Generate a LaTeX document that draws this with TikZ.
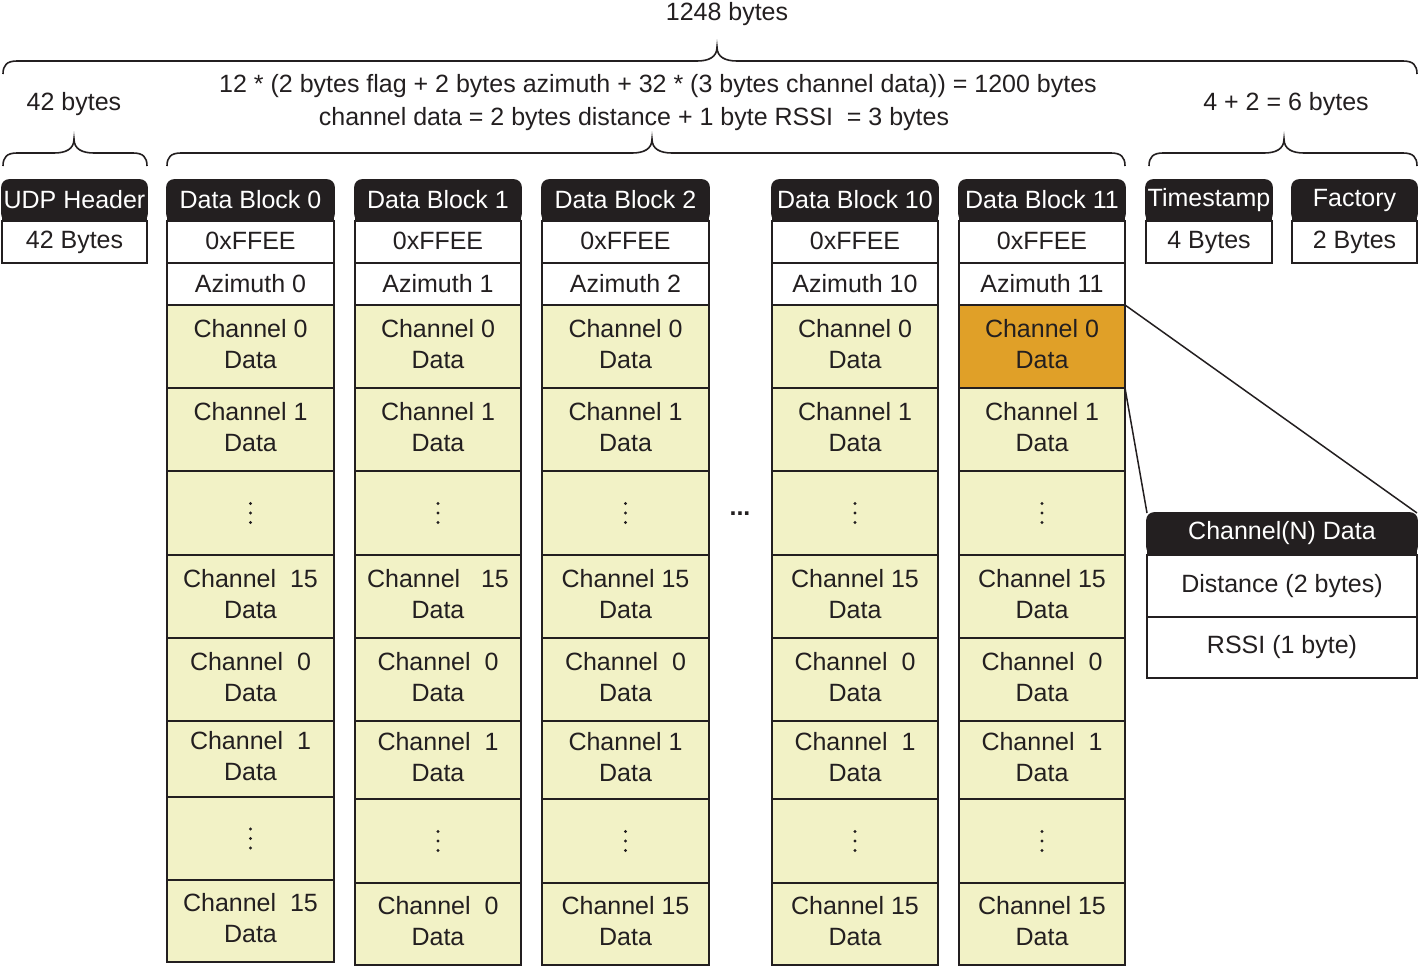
\documentclass[tikz,border=0pt]{standalone}
\usepackage{fontspec}
\setmainfont{Liberation Sans}
\definecolor{ink}{HTML}{231F20}
\definecolor{paleyellow}{HTML}{F2F2C6}
\definecolor{amber}{HTML}{E0A028}
\tikzset{
  base/.style={inner sep=0pt, outer sep=0pt, anchor=north west, align=center,
    font=\fontsize{25}{31}\selectfont, text=ink},
  cell/.style={base, draw=ink, line width=1.6pt, fill=paleyellow},
  wcell/.style={cell, fill=white},
  hot/.style={cell, fill=amber},
  hdrbox/.style={base, fill=ink, draw=ink, line width=1.6pt, rounded corners=7pt,
    minimum height=41, text=white},
  brc/.style={draw=ink, line width=1.6pt},
  lbl/.style={font=\fontsize{25}{31}\selectfont, text=ink, inner sep=0pt},
  link/.style={draw=ink, line width=1.5pt},
  dotmark/.style={fill=ink}
}
% header with rounded top corners: name, x, y, w, text
\newcommand\hdr[5]{%
  \fill[ink] (#2,#3+20) rectangle (#2+#4,#3+41);
  \node[hdrbox, minimum width=#4] (#1) at (#2,#3) {\raisebox{3pt}{#5}};
}
% column head: prefix, x, w, label, azimuth
\newcommand\colhead[5]{%
  \hdr{#1h}{#2}{180}{#3}{#4}
  \node[wcell, minimum width=#3, minimum height=42] (#1f) at (#2,221) {\raisebox{2pt}{0xFFEE}};
  \node[wcell, minimum width=#3, minimum height=42] (#1a) at (#2,263) {\raisebox{2pt}{#5}};
}
% row: name, x, w, ytop, ybot, text, style
\newcommand\chrow[7]{%
  \pgfmathsetmacro\rowh{#5-#4}
  \node[#7, minimum width=#3, minimum height=\rowh] (#1) at (#2,#4) {\raisebox{2pt}{\begin{tabular}{@{}c@{}}#6\end{tabular}}};
}
% dotted row: name, x, w, ytop, ybot
\newcommand\dotrow[5]{%
  \pgfmathsetmacro\rowh{#5-#4}
  \node[cell, minimum width=#3, minimum height=\rowh] (#1) at (#2,#4) {};
  \fill[dotmark] (#1.center) ++(0,-9.5) circle (1.6pt);
  \fill[dotmark] (#1.center) circle (1.6pt);
  \fill[dotmark] (#1.center) ++(0,9.5) circle (1.6pt);
}
% brace: left x, right x, tip x, line y
\newcommand\bytebrace[4]{%
  \draw[brc] (#1,#4+13) .. controls (#1,#4+4) and (#1+4,#4) .. (#1+14,#4)
    -- (#3-20,#4) .. controls (#3-8,#4) and (#3,#4-4) .. (#3,#4-14)
    .. controls (#3,#4-4) and (#3+8,#4) .. (#3+20,#4)
    -- (#2-14,#4) .. controls (#2-4,#4) and (#2,#4+4) .. (#2,#4+13);
}
\begin{document}
\begin{tikzpicture}[x=1pt, y=-1pt]
\useasboundingbox (0,0) rectangle (1422,967);

% texts and braces
\node[lbl] (t1248) at (727,14) {1248 bytes};
\bytebrace{3}{1417}{717}{61}
\node[lbl] (tcalc) at (658,86) {12 * (2 bytes flag + 2 bytes azimuth + 32 * (3 bytes channel data)) = 1200 bytes};
\node[lbl] (tch) at (634,119) {channel data = 2 bytes distance + 1 byte RSSI~~= 3 bytes};
\node[lbl] (t42) at (74,104) {42 bytes};
\node[lbl] (t6) at (1286,104) {4 + 2 = 6 bytes};
\bytebrace{3}{147}{74}{153}
\bytebrace{167}{1125}{652}{153}
\bytebrace{1149}{1417}{1284}{153}

% UDP header
\hdr{udph}{2}{180}{145}{UDP Header}
\node[wcell, minimum width=145, minimum height=42] (udpb) at (2,221) {\raisebox{2pt}{42 Bytes}};

% Data Block 0
\colhead{c0}{167}{167}{Data Block 0}{Azimuth 0}
\chrow{c0r0}{167}{167}{305}{388}{Channel 0\\Data}{cell}
\chrow{c0r1}{167}{167}{388}{471}{Channel 1\\Data}{cell}
\dotrow{c0r2}{167}{167}{471}{555}
\chrow{c0r3}{167}{167}{555}{638}{Channel~~15\\Data}{cell}
\chrow{c0r4}{167}{167}{638}{721}{Channel~~0\\Data}{cell}
\chrow{c0r5}{167}{167}{721}{797}{Channel~~1\\Data}{cell}
\dotrow{c0r6}{167}{167}{797}{880}
\chrow{c0r7}{167}{167}{880}{962}{Channel~~15\\Data}{cell}

% Data Block 1
\colhead{c1}{355}{166}{Data Block 1}{Azimuth 1}
\chrow{c1r0}{355}{166}{305}{388}{Channel 0\\Data}{cell}
\chrow{c1r1}{355}{166}{388}{471}{Channel 1\\Data}{cell}
\dotrow{c1r2}{355}{166}{471}{555}
\chrow{c1r3}{355}{166}{555}{638}{Channel~~~15\\Data}{cell}
\chrow{c1r4}{355}{166}{638}{721}{Channel~~0\\Data}{cell}
\chrow{c1r5}{355}{166}{721}{799}{Channel~~1\\Data}{cell}
\dotrow{c1r6}{355}{166}{799}{883}
\chrow{c1r7}{355}{166}{883}{965}{Channel~~0\\Data}{cell}

% Data Block 2
\colhead{c2}{542}{167}{Data Block 2}{Azimuth 2}
\chrow{c2r0}{542}{167}{305}{388}{Channel 0\\Data}{cell}
\chrow{c2r1}{542}{167}{388}{471}{Channel 1\\Data}{cell}
\dotrow{c2r2}{542}{167}{471}{555}
\chrow{c2r3}{542}{167}{555}{638}{Channel 15\\Data}{cell}
\chrow{c2r4}{542}{167}{638}{721}{Channel~~0\\Data}{cell}
\chrow{c2r5}{542}{167}{721}{799}{Channel 1\\Data}{cell}
\dotrow{c2r6}{542}{167}{799}{883}
\chrow{c2r7}{542}{167}{883}{965}{Channel 15\\Data}{cell}

\node[lbl] (ell) at (740,514) {\textbf{...}};

% Data Block 10
\colhead{c10}{772}{166}{Data Block 10}{Azimuth 10}
\chrow{c10r0}{772}{166}{305}{388}{Channel 0\\Data}{cell}
\chrow{c10r1}{772}{166}{388}{471}{Channel 1\\Data}{cell}
\dotrow{c10r2}{772}{166}{471}{555}
\chrow{c10r3}{772}{166}{555}{638}{Channel 15\\Data}{cell}
\chrow{c10r4}{772}{166}{638}{721}{Channel~~0\\Data}{cell}
\chrow{c10r5}{772}{166}{721}{799}{Channel~~1\\Data}{cell}
\dotrow{c10r6}{772}{166}{799}{883}
\chrow{c10r7}{772}{166}{883}{965}{Channel 15\\Data}{cell}

% Data Block 11
\colhead{c11}{959}{166}{Data Block 11}{Azimuth 11}
\chrow{c11r0}{959}{166}{305}{388}{Channel 0\\Data}{hot}
\chrow{c11r1}{959}{166}{388}{471}{Channel 1\\Data}{cell}
\dotrow{c11r2}{959}{166}{471}{555}
\chrow{c11r3}{959}{166}{555}{638}{Channel 15\\Data}{cell}
\chrow{c11r4}{959}{166}{638}{721}{Channel~~0\\Data}{cell}
\chrow{c11r5}{959}{166}{721}{799}{Channel~~1\\Data}{cell}
\dotrow{c11r6}{959}{166}{799}{883}
\chrow{c11r7}{959}{166}{883}{965}{Channel 15\\Data}{cell}

% Timestamp and Factory
\hdr{tsh}{1146}{180}{126}{Timestamp}
\node[wcell, minimum width=126, minimum height=42] (tsb) at (1146,221) {\raisebox{2pt}{4 Bytes}};
\hdr{fah}{1292}{180}{125}{Factory}
\node[wcell, minimum width=125, minimum height=42] (fab) at (1292,221) {\raisebox{2pt}{2 Bytes}};

% Channel(N) Data detail
\hdr{nh}{1147}{513}{270}{Channel(N) Data}
\node[wcell, minimum width=270, minimum height=62] (nd) at (1147,555) {\raisebox{3pt}{Distance (2 bytes)}};
\node[wcell, minimum width=270, minimum height=61] (nr) at (1147,617) {RSSI (1 byte)};

\draw[link] (c11r0.north east) -- (nh.north east);
\draw[link] (c11r0.south east) -- (nh.north west);
\end{tikzpicture}
\end{document}
